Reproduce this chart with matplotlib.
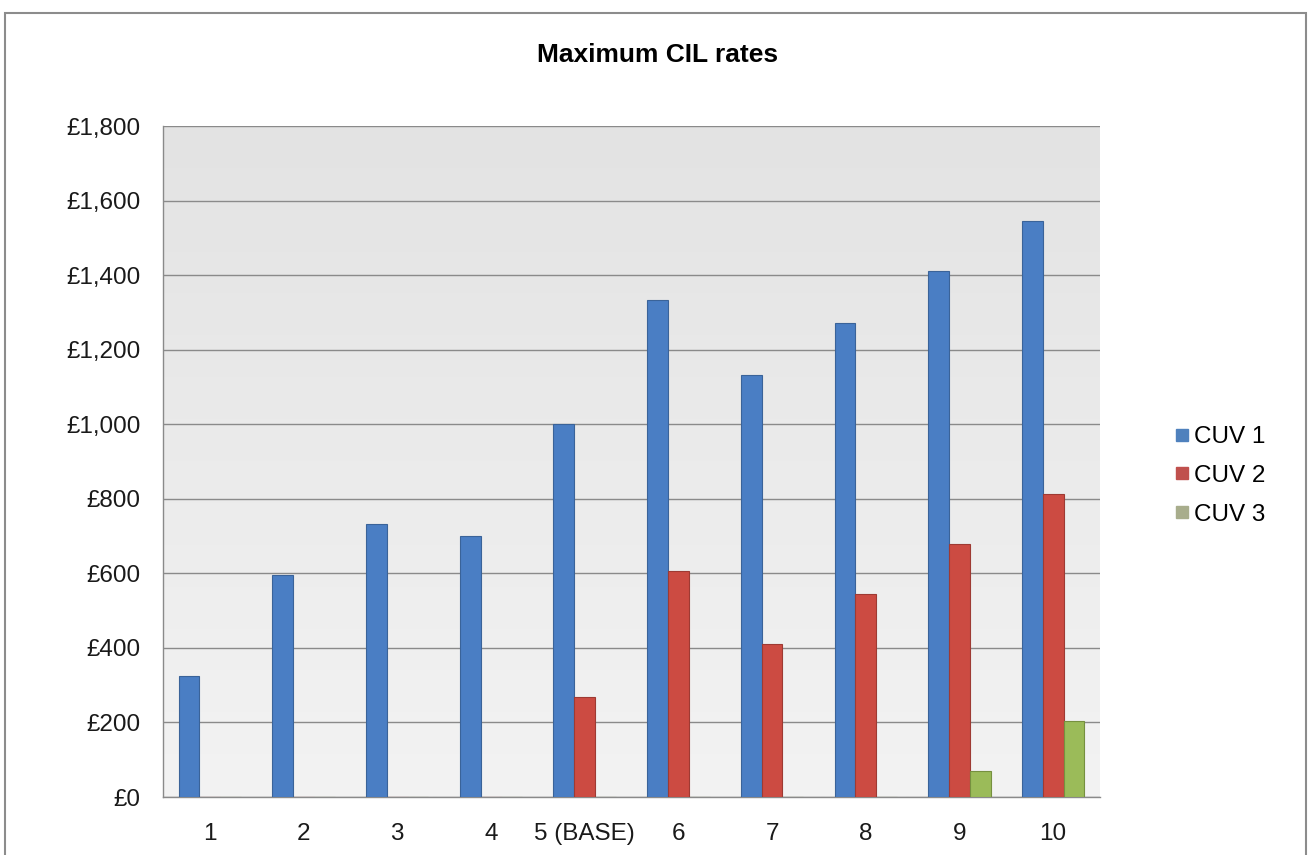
import numpy as np
import matplotlib.pyplot as plt
from matplotlib.lines import Line2D
from matplotlib.patches import Rectangle
from matplotlib.ticker import FuncFormatter

plt.rcParams["font.family"] = ["Liberation Sans", "DejaVu Sans"]

categories = ["1", "2", "3", "4", "5 (BASE)", "6", "7", "8", "9", "10"]
cuv1 = [325, 596, 731, 701, 1000, 1333, 1133, 1272, 1410, 1544]
cuv2 = [0, 0, 0, 0, 267, 605, 410, 544, 679, 812]
cuv3 = [0, 0, 0, 0, 0, 0, 0, 0, 70, 203]
series_names = ["CUV 1", "CUV 2", "CUV 3"]

colors = ["#4a7ec4", "#cc4b42", "#9bbb59"]
edges = ["#3a6399", "#9e3a33", "#76903f"]

fig = plt.figure(figsize=(13.12, 8.55), dpi=100)
fig.patch.set_facecolor("white")

# outer chart frame
fig.patches.append(Rectangle((5 / 1312, -0.01), 1301 / 1312, 1 - 13 / 855 + 0.01,
                             transform=fig.transFigure, fill=False,
                             edgecolor="#8c8c8c", linewidth=1.5))

ax = fig.add_axes([163 / 1312, 1 - 797 / 855, 937 / 1312, 671 / 855])

# plot-area gradient
grad = np.linspace(0, 1, 256).reshape(-1, 1)
ax.imshow(grad, extent=[0, 1, 0, 1], transform=ax.transAxes, aspect="auto",
          cmap=plt.matplotlib.colors.LinearSegmentedColormap.from_list(
              "bg", ["#e3e3e3", "#f3f3f3"]), origin="upper", zorder=0)

x = np.arange(len(categories))
w = 0.222
for i, (vals, c, e) in enumerate(zip([cuv1, cuv2, cuv3], colors, edges)):
    ax.bar(x + (i - 1) * w, vals, width=w, color=c, edgecolor=e,
           linewidth=0.8, zorder=3)

ax.set_xlim(-0.5, len(categories) - 0.5)
ax.set_ylim(0, 1800)
ax.set_yticks(np.arange(0, 1801, 200))
ax.yaxis.set_major_formatter(FuncFormatter(lambda v, p: f"£{v:,.0f}"))
ax.set_xticks(x)
ax.set_xticklabels(categories)
ax.tick_params(axis="both", length=0, labelsize=17.5, colors="#1a1a1a")
ax.tick_params(axis="y", pad=16)
ax.tick_params(axis="x", pad=19)
ax.grid(axis="y", color="#8a8a8a", linewidth=1, zorder=1)
ax.set_axisbelow(True)

for s in ["top", "right"]:
    ax.spines[s].set_visible(False)
for s in ["left", "bottom"]:
    ax.spines[s].set_color("#8a8a8a")
    ax.spines[s].set_linewidth(1)

fig.text(658 / 1312, 1 - 55 / 855, "Maximum CIL rates",
         ha="center", va="center", fontsize=19, fontweight="bold")

handles = [Line2D([], [], marker="s", linestyle="", markersize=8,
                  markerfacecolor=c, markeredgecolor=c) for c in ["#4f81bd", "#c0504d", "#a8ad8c"]]
fig.legend(handles, series_names, loc="center left",
           bbox_to_anchor=(1158 / 1312, 1 - 476 / 855), frameon=False,
           fontsize=17.5, handletextpad=0.0, labelspacing=0.68,
           handlelength=1.0, borderpad=0)

fig.savefig("out.png", dpi=100)
